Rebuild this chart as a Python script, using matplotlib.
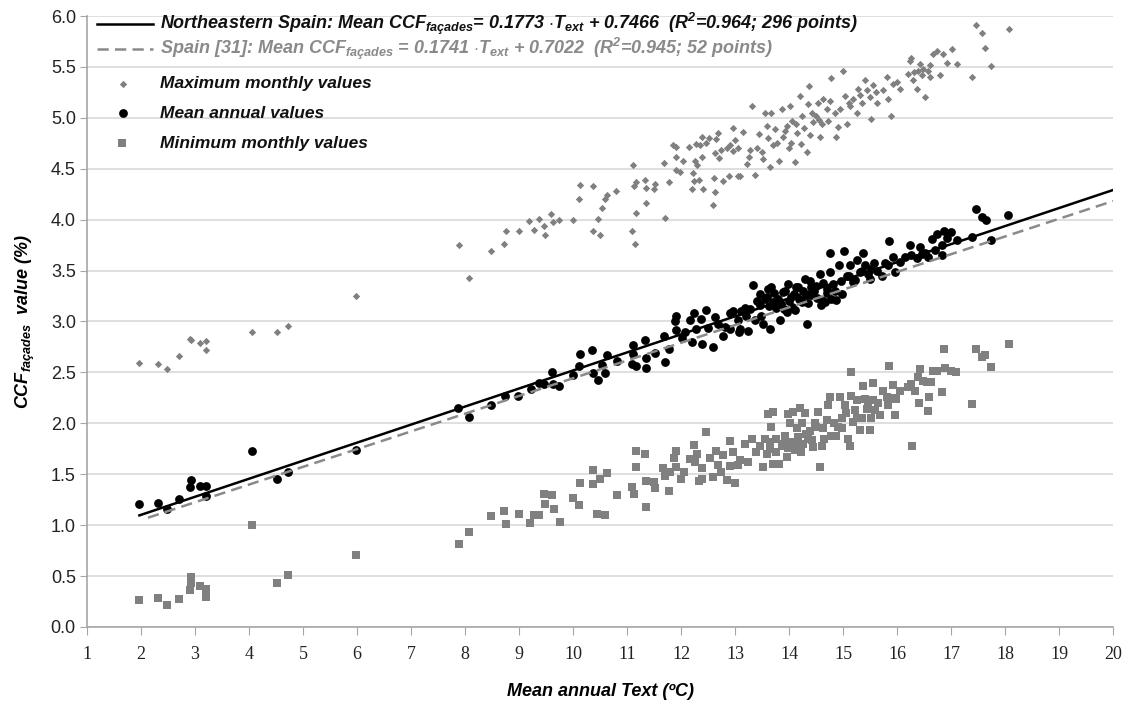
import matplotlib
matplotlib.use("Agg")
import matplotlib.pyplot as plt
import numpy as np

plt.rcParams["font.family"] = ["Liberation Sans", "DejaVu Sans"]
plt.rcParams["mathtext.fontset"] = "custom"
plt.rcParams["mathtext.rm"] = "Liberation Sans:bold:italic"
plt.rcParams["mathtext.it"] = "Liberation Sans:bold:italic"
plt.rcParams["mathtext.bf"] = "Liberation Sans:bold:italic"

# -- data --------------------------------------------------------------------
max_t = [1.97, 2.32, 2.48, 2.70, 2.90, 2.93, 3.10, 3.20, 3.20, 4.05, 4.51, 4.73, 5.98,
         7.88, 8.07, 8.48, 8.72, 8.76, 8.99, 9.19, 9.28, 9.37, 9.46, 9.47, 9.59, 9.63, 9.74,
         10.00, 10.11, 10.13, 10.36, 10.36, 10.45, 10.50, 10.54, 10.59, 10.62, 10.80,
         11.08, 11.10, 11.12, 11.15, 11.17, 11.16, 11.33, 11.35, 11.35, 11.50, 11.51,
         11.69, 11.70, 11.77, 11.85, 11.90, 11.91, 11.91, 11.98, 12.04, 12.15, 12.20,
         12.21, 12.23, 12.26, 12.28, 12.29, 12.32, 12.34, 12.38, 12.39, 12.41, 12.46,
         12.52, 12.58, 12.61, 12.62, 12.63, 12.64, 12.68, 12.70, 12.73, 12.78, 12.85,
         12.89, 12.90, 12.95, 12.96, 12.99, 13.05, 13.05,
         13.09, 13.15, 13.21, 13.27, 13.31, 13.36, 13.44, 13.52, 13.55, 13.58, 13.64,
         13.67, 13.70, 13.73, 13.81, 13.86, 13.89, 13.95, 14.01, 14.04, 14.10, 14.13,
         14.20, 14.21, 14.23, 14.32, 14.35, 14.37, 14.38, 14.44, 14.50, 14.53, 14.57,
         14.60, 14.63, 14.69, 14.75, 14.77, 14.87, 14.90, 14.94, 15.00, 15.03, 15.06,
         15.12, 15.18, 15.25, 15.28, 15.34, 15.40, 15.43, 15.49, 15.52, 15.55, 15.62,
         15.74, 15.80, 15.83, 15.89, 15.92, 16.05, 16.20, 16.23, 16.26, 16.29, 16.36,
         16.39, 16.42, 16.45, 16.48, 16.52, 16.57, 16.60, 16.66, 16.73, 16.79, 16.84,
         16.91, 17.02, 17.11, 17.39, 17.45, 17.56, 17.63, 17.74, 18.07,
         13.40, 13.60, 13.78, 13.92, 14.05, 14.15, 14.28, 14.42, 14.55, 14.72, 14.85,
         15.10, 15.30, 15.60, 16.00, 16.30, 16.60, 13.25, 13.50, 14.00]
max_ccf = [2.59, 2.58, 2.53, 2.66, 2.83, 2.82, 2.79, 2.81, 2.72, 2.90, 2.90, 2.96, 3.25,
           3.75, 3.43, 3.69, 3.76, 3.89, 3.89, 3.99, 3.90, 4.01, 3.94, 3.85, 4.06, 3.98, 4.00,
           4.00, 4.20, 4.34, 3.89, 4.33, 4.01, 3.85, 4.11, 4.20, 4.24, 4.28,
           3.89, 4.54, 4.33, 3.76, 4.37, 4.07, 4.39, 4.31, 4.16, 4.30, 4.35,
           4.56, 4.02, 4.37, 4.73, 4.62, 4.71, 4.49, 4.47, 4.58, 4.71, 4.30,
           4.46, 4.38, 4.58, 4.74, 4.54, 4.39, 4.73, 4.62, 4.81, 4.30, 4.75,
           4.80, 4.14, 4.41, 4.27, 4.65, 4.79, 4.85, 4.61, 4.68, 4.38, 4.70,
           4.43, 4.73, 4.67, 4.90, 4.78, 4.43, 4.70,
           4.43, 4.86, 4.55, 4.68, 5.12, 4.44, 4.84, 4.60, 5.05, 4.92, 4.52,
           5.05, 4.73, 4.89, 4.58, 5.09, 4.81, 4.92, 5.12, 4.75, 4.57, 4.94,
           5.21, 4.74, 5.02, 4.66, 5.14, 5.31, 4.83, 4.96, 5.02, 5.15, 4.81,
           4.94, 5.19, 5.09, 5.17, 5.39, 4.81, 4.91, 5.09, 5.46, 5.21, 4.94,
           5.12, 5.19, 5.05, 5.28, 5.15, 5.37, 5.27, 5.20, 4.99, 5.32, 5.15,
           5.27, 5.40, 5.19, 5.02, 5.33, 5.28, 5.43, 5.56, 5.59, 5.37, 5.28,
           5.46, 5.53, 5.42, 5.48, 5.20, 5.46, 5.40, 5.63, 5.66, 5.42, 5.63,
           5.54, 5.68, 5.53, 5.40, 5.91, 5.83, 5.69, 5.51, 5.87,
           4.70, 4.80, 4.75, 4.87, 4.97, 4.85, 4.90, 5.05, 4.98, 4.97, 5.05,
           5.15, 5.22, 5.25, 5.35, 5.45, 5.52, 4.62, 4.66, 4.70]

mean_t = [1.97, 2.32, 2.48, 2.70, 2.90, 2.93, 3.10, 3.20, 3.21, 4.05, 4.51, 4.73, 5.98,
          7.87, 8.07, 8.47, 8.74, 8.98, 9.22, 9.37, 9.46, 9.60, 9.63, 9.74, 9.99, 10.11,
          10.13, 10.35, 10.36, 10.45, 10.53, 10.59, 10.62, 10.82, 11.10, 11.11, 11.08,
          11.16, 11.33, 11.34, 11.35, 11.51, 11.69, 11.70, 11.77, 11.88, 11.90, 11.91,
          12.01, 12.07, 12.16, 12.19, 12.24, 12.28, 12.36, 12.38, 12.45, 12.50, 12.59,
          12.62, 12.68, 12.78, 12.81, 12.90, 12.96, 13.05, 13.09,
          12.90, 13.07, 13.18, 13.24, 13.32, 13.36, 13.46, 13.52, 13.58, 13.64, 13.67,
          13.70, 13.76, 13.83, 13.89, 13.95, 13.98, 14.04, 14.10, 14.16, 14.23, 14.29,
          14.32, 14.38, 14.41, 14.50, 14.57, 14.60, 14.66, 14.69, 14.75, 14.76, 14.81,
          14.87, 14.92, 14.97, 15.02, 15.06, 15.12, 15.18, 15.25, 15.30, 15.37, 15.40,
          15.49, 15.52, 15.57, 15.71, 15.77, 15.85, 15.92, 15.95, 16.05, 16.23, 16.26,
          16.36, 16.42, 16.51, 16.57, 16.65, 16.73, 16.82, 16.82, 16.86, 16.91, 17.00,
          17.11, 17.39, 17.45, 17.56, 17.64, 17.74, 18.05,
          13.40, 13.45, 13.55, 13.62, 13.72, 13.80, 13.85, 13.92, 14.00, 14.08, 14.12,
          14.18, 14.25, 14.30, 14.35, 14.45, 14.52, 14.62, 14.70, 14.85, 14.95, 15.10,
          15.22, 15.35, 15.45, 15.62, 15.82, 16.15, 16.45, 16.70, 13.20, 13.10, 13.28,
          13.48, 13.60, 13.90, 14.05, 14.40, 14.58, 14.78]
mean_ccf = [1.21, 1.22, 1.16, 1.26, 1.37, 1.44, 1.38, 1.38, 1.29, 1.73, 1.45, 1.52, 1.74,
            2.15, 2.06, 2.18, 2.27, 2.27, 2.34, 2.40, 2.39, 2.50, 2.39, 2.37, 2.47, 2.56,
            2.68, 2.72, 2.49, 2.43, 2.57, 2.49, 2.67, 2.61, 2.77, 2.68, 2.58,
            2.56, 2.82, 2.64, 2.54, 2.69, 2.86, 2.60, 2.73, 3.00, 2.92, 3.05,
            2.84, 2.90, 3.01, 2.80, 3.08, 2.93, 3.02, 2.78, 3.11, 2.94, 2.75,
            3.04, 2.98, 2.86, 2.95, 3.08, 3.10, 3.01, 2.93,
            2.93, 2.90, 3.13, 2.91, 3.36, 3.01, 3.16, 2.98, 3.24, 2.93, 3.34,
            3.19, 3.13, 3.01, 3.29, 3.09, 3.37, 3.24, 3.11, 3.34, 3.19, 3.42,
            2.98, 3.40, 3.26, 3.35, 3.47, 3.21, 3.19, 3.32, 3.49, 3.67, 3.37,
            3.21, 3.55, 3.27, 3.69, 3.45, 3.55, 3.39, 3.60, 3.49, 3.67, 3.55,
            3.42, 3.52, 3.57, 3.45, 3.57, 3.79, 3.63, 3.49, 3.58, 3.75, 3.65,
            3.62, 3.73, 3.67, 3.63, 3.81, 3.86, 3.65, 3.75, 3.89, 3.82, 3.88,
            3.80, 3.83, 4.10, 4.03, 4.00, 3.80, 4.05,
            3.20, 3.27, 3.22, 3.15, 3.28, 3.22, 3.17, 3.30, 3.20, 3.27, 3.34,
            3.22, 3.30, 3.26, 3.18, 3.30, 3.23, 3.38, 3.28, 3.30, 3.40, 3.45,
            3.41, 3.50, 3.47, 3.50, 3.55, 3.63, 3.66, 3.70, 3.05, 3.10, 3.12,
            3.05, 3.32, 3.12, 3.14, 3.34, 3.16, 3.22]

min_t = [1.96, 2.32, 2.48, 2.70, 2.90, 2.93, 2.93, 3.10, 3.20, 3.21, 4.05, 4.51, 4.73, 5.98,
         7.88, 8.07, 8.47, 8.72, 8.76, 9.00, 9.20, 9.28, 9.37, 9.46, 9.48, 9.60, 9.65, 9.76,
         9.99, 10.11, 10.13, 10.36, 10.36, 10.44, 10.50, 10.58, 10.62, 10.81, 11.08, 11.13,
         11.16, 11.16, 11.33, 11.34, 11.34, 11.49, 11.51, 11.67, 11.70, 11.77, 11.79, 11.86,
         11.91, 11.91, 11.99, 12.06, 12.16, 12.24, 12.26, 12.30, 12.32, 12.38, 12.39, 12.45,
         12.53, 12.58, 12.64, 12.68, 12.73, 12.78, 12.84, 12.90, 12.90, 12.95, 12.99, 13.05,
         13.09, 13.18, 13.24, 13.31, 13.39, 13.52, 13.55, 13.61, 13.64, 13.67, 13.70, 13.70,
         13.76, 13.81, 13.86, 13.92, 13.95, 13.98, 14.01, 14.04, 14.07, 14.10, 14.16, 14.20,
         14.23, 14.26, 14.29, 14.35, 14.38, 14.44, 14.47, 14.53, 14.57, 14.60, 14.63, 14.69,
         14.72, 14.75, 14.78, 14.87, 14.90, 14.94, 14.97, 15.03, 15.09, 15.12, 15.15, 15.15,
         15.18, 15.21, 15.25, 15.31, 15.34, 15.36, 15.40, 15.43, 15.49, 15.52, 15.55, 15.55,
         15.59, 15.68, 15.73, 15.80, 15.83, 15.84, 15.92, 15.95, 15.98, 16.05, 16.20, 16.26,
         16.28, 16.32, 16.39, 16.40, 16.42, 16.48, 16.54, 16.57, 16.59, 16.62, 16.66, 16.74,
         16.82, 16.86, 16.89, 17.00, 17.09, 17.39, 17.45, 17.56, 17.63, 17.74, 18.07,
         13.45, 13.58, 13.75, 13.88, 13.98, 14.12, 14.22, 14.30, 14.42, 14.50, 14.65,
         14.82, 14.98, 15.05, 15.25, 15.45, 15.65, 15.90, 14.15, 13.65]
min_ccf = [0.26, 0.28, 0.22, 0.27, 0.36, 0.49, 0.43, 0.40, 0.37, 0.29, 1.00, 0.43, 0.51, 0.71,
           0.81, 0.93, 1.09, 1.14, 1.01, 1.11, 1.02, 1.10, 1.10, 1.31, 1.21, 1.30, 1.16, 1.03,
           1.27, 1.20, 1.41, 1.54, 1.40, 1.11, 1.45, 1.10, 1.51, 1.30, 1.37, 1.31,
           1.73, 1.57, 1.70, 1.43, 1.18, 1.42, 1.36, 1.56, 1.48, 1.34, 1.52, 1.66,
           1.73, 1.57, 1.45, 1.52, 1.65, 1.79, 1.62, 1.70, 1.43, 1.56, 1.45, 1.91,
           1.66, 1.47, 1.73, 1.59, 1.52, 1.69, 1.44, 1.83, 1.58, 1.72, 1.41, 1.59,
           1.64, 1.80, 1.62, 1.85, 1.72, 1.57, 1.85, 2.09, 1.75, 1.96, 2.11, 1.60,
           1.85, 1.60, 1.78, 1.88, 1.67, 2.09, 2.00, 1.82, 2.11, 1.74, 1.87, 2.15,
           2.00, 1.80, 2.10, 1.85, 1.92, 1.77, 2.00, 2.11, 1.57, 1.78, 1.95, 2.03,
           2.18, 2.26, 1.88, 1.88, 1.96, 2.26, 2.05, 2.18, 1.85, 1.78, 2.50, 2.27,
           2.01, 2.13, 2.23, 1.93, 2.05, 2.37, 2.24, 2.14, 1.93, 2.05, 2.40, 2.23,
           2.13, 2.08, 2.32, 2.26, 2.18, 2.56, 2.38, 2.08, 2.24, 2.32, 2.36, 2.39,
           1.78, 2.32, 2.45, 2.20, 2.53, 2.42, 2.41, 2.12, 2.26, 2.41, 2.51, 2.51,
           2.31, 2.73, 2.54, 2.51, 2.50, 2.19, 2.73, 2.65, 2.67, 2.55, 2.78,
           1.78, 1.70, 1.72, 1.80, 1.76, 1.80, 1.72, 1.90, 1.84, 1.96, 1.85,
           2.00, 1.95, 2.10, 2.05, 2.18, 2.20, 2.25, 1.95, 1.82]

# regression lines as printed in the legend
ne_slope, ne_icpt, ne_range = 0.1773, 0.7466, (1.97, 20.0)
sp_slope, sp_icpt, sp_range = 0.1741, 0.7022, (2.13, 20.0)

GREY = "#808080"


def main() -> None:
    fig = plt.figure(figsize=(11.28, 7.09), dpi=100)
    ax = fig.add_axes([0.0771, 0.1157, 0.9100, 0.8617])

    ax.scatter(max_t, max_ccf, marker="D", s=14, color=GREY, linewidths=0, zorder=3)
    ax.scatter(min_t, min_ccf, marker="s", s=38, color=GREY, linewidths=0, zorder=3)
    ax.scatter(mean_t, mean_ccf, marker="o", s=40, color="black", linewidths=0, zorder=4)

    t = np.array(ne_range)
    ax.plot(t, ne_slope * t + ne_icpt, color="black", lw=1.8, zorder=5)
    t = np.array(sp_range)
    ax.plot(t, sp_slope * t + sp_icpt, color="#8a8a8a", lw=1.8, ls=(0, (4.5, 2.5)), zorder=5)

    ax.set_xlim(1, 20)
    ax.set_ylim(0, 6)
    ax.set_xticks(range(1, 21))
    ax.set_yticks(np.arange(0, 6.01, 0.5))
    ax.set_yticklabels([f"{v:.1f}" for v in np.arange(0, 6.01, 0.5)], fontsize=13,
                       color="#222222")
    ax.set_xticklabels([str(v) for v in range(1, 21)], family="Liberation Serif",
                       fontsize=13, color="#222222")
    ax.grid(axis="y", color="#d9d9d9", lw=1.2, zorder=0)
    ax.set_axisbelow(True)
    for s in ("top", "right"):
        ax.spines[s].set_visible(False)
    for s in ("left", "bottom"):
        ax.spines[s].set_color("#a6a6a6")
        ax.spines[s].set_linewidth(1.2)
    ax.tick_params(axis="x", direction="out", length=6, color="#a6a6a6", pad=8)
    ax.tick_params(axis="y", direction="out", length=5, color="#a6a6a6", pad=3)

    ax.set_xlabel("Mean annual Text (ºC)", fontsize=13, fontweight="bold",
                  fontstyle="italic", labelpad=14)
    ax.set_ylabel(r"CCF$_{façades}$  value (%)", fontsize=13, fontweight="bold",
                  fontstyle="italic", labelpad=10)

    # -- legend, drawn by hand (uneven spacing in the original) -----------------
    tr = ax.transAxes
    kw = dict(transform=tr, fontweight="bold", fontstyle="italic", va="center", ha="left")
    ax.plot([0.0097, 0.0643], [0.987, 0.987], color="black", lw=1.8, transform=tr,
            clip_on=False)
    ax.text(0.0711, 0.987,
            r"Northeastern Spain: Mean CCF$_{façades}$= 0.1773 $\cdot$T$_{ext}$ + 0.7466  "
            r"(R$^{2}$=0.964; 296 points)", color="#111111", fontsize=13, **kw)
    ax.plot([0.0097, 0.0643], [0.946, 0.946], color="#8a8a8a", lw=1.8,
            ls=(0, (4.5, 2.5)), transform=tr, clip_on=False)
    ax.text(0.0711, 0.946,
            r"Spain [31]: Mean CCF$_{façades}$ = 0.1741 $\cdot$T$_{ext}$ + 0.7022  "
            r"(R$^{2}$=0.945; 52 points)", color="#8a8a8a", fontsize=13, **kw)
    ax.scatter([0.0351], [0.889], marker="D", s=14, color=GREY, linewidths=0,
               transform=tr, clip_on=False)
    ax.text(0.0711, 0.889, "Maximum monthly values", color="#111111", fontsize=12.5, **kw)
    ax.scatter([0.0351], [0.841], marker="o", s=40, color="black", linewidths=0,
               transform=tr, clip_on=False)
    ax.text(0.0711, 0.841, "Mean annual values", color="#111111", fontsize=12.5, **kw)
    ax.scatter([0.0341], [0.792], marker="s", s=38, color=GREY, linewidths=0,
               transform=tr, clip_on=False)
    ax.text(0.0711, 0.792, "Minimum monthly values", color="#111111", fontsize=12.5, **kw)

    fig.savefig("out.png", dpi=100, facecolor="white")


if __name__ == "__main__":
    main()
